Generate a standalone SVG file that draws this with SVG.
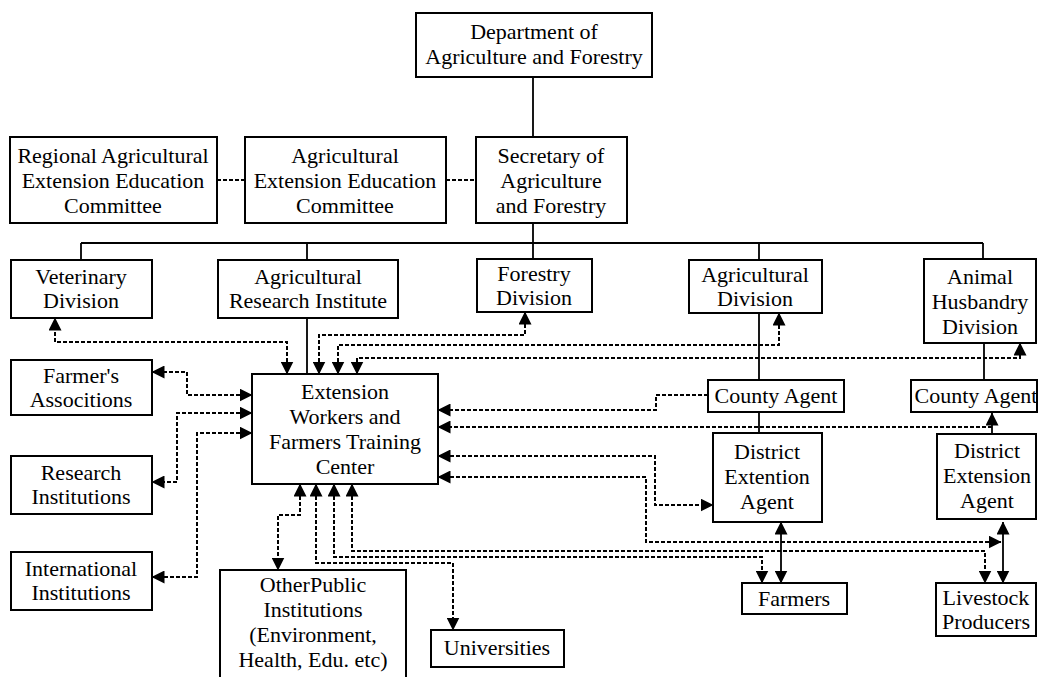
<svg xmlns="http://www.w3.org/2000/svg" width="1039" height="677" viewBox="0 0 1039 677">
<style>
.box{fill:#fff;stroke:#000;stroke-width:2}
text{font-family:'Liberation Serif','Times New Roman',Times,'DejaVu Serif',serif;font-size:22px;fill:#000;text-anchor:middle}
.solid{fill:none;stroke:#000;stroke-width:1.8}
.dash{fill:none;stroke:#000;stroke-width:2;stroke-dasharray:4,2}
.a2{marker-start:url(#ah);marker-end:url(#ah)}
.a1{marker-end:url(#ah)}
</style>
<defs>
<marker id="ah" markerUnits="userSpaceOnUse" markerWidth="13" markerHeight="13" viewBox="0 0 13 13" refX="12.5" refY="6.5" orient="auto-start-reverse">
<path d="M0,0 L13,6.5 L0,13 z" fill="#000"/>
</marker>
</defs>
<rect width="1039" height="677" fill="#fff"/>
<g id="connectors">
<path class="solid" d="M533,77 V137 M533,223 V243 M81,243 H983 M81,243 V260 M307,243 V260 M533,243 V259 M759,243 V260 M983,243 V259 M307,318 V374 M759,313 V380 M759,412 V433 M984,343 V380"/>
<path class="solid a1" d="M992,434 V413"/>
<path class="solid a2" d="M781,522 V583"/>
<path class="solid a2" d="M1003,522 V583"/>
<path class="dash" d="M217,180 H245 M446,180 H476"/>
<path class="dash a2" d="M287,374 V342 H55 V318"/>
<path class="dash a2" d="M319,374 V335 H525 V312"/>
<path class="dash a2" d="M338,374 V345 H779 V313"/>
<path class="dash a2" d="M357,374 V358 H1020 V343"/>
<path class="dash a2" d="M252,395 H187 V372 H152"/>
<path class="dash a2" d="M252,413 H177 V482 H152"/>
<path class="dash a2" d="M252,433 H197 V577 H152"/>
<path class="dash a1" d="M708,395 H656 V410 H438"/>
<path class="dash a1" d="M992,427 H438"/>
<path class="dash a2" d="M438,456 H655 V505 H713"/>
<path class="dash a2" d="M438,477 H646 V542 H1001"/>
<path class="dash a2" d="M300,484 V515 H278 V570"/>
<path class="dash a2" d="M316,484 V563 H453 V630"/>
<path class="dash a2" d="M334,484 V557 H762 V583"/>
<path class="dash a2" d="M352,484 V551 H985 V583"/>
</g>
<g id="dept"><rect class="box" x="416" y="13" width="236" height="64"/><text x="534" y="39">Department of</text><text x="534" y="64">Agriculture and Forestry</text></g>
<g id="secretary"><rect class="box" x="476" y="137" width="151" height="86"/><text x="551" y="163">Secretary of</text><text x="551" y="188">Agriculture</text><text x="551" y="213">and Forestry</text></g>
<g id="aeec"><rect class="box" x="245" y="137" width="201" height="86"/><text x="345" y="163">Agricultural</text><text x="345" y="188">Extension Education</text><text x="345" y="213">Committee</text></g>
<g id="regional"><rect class="box" x="10" y="137" width="207" height="86"/><text x="113" y="163">Regional Agricultural</text><text x="113" y="188">Extension Education</text><text x="113" y="213">Committee</text></g>
<g id="vet"><rect class="box" x="11" y="260" width="141" height="58"/><text x="81" y="284">Veterinary</text><text x="81" y="308">Division</text></g>
<g id="ari"><rect class="box" x="218" y="260" width="180" height="58"/><text x="308" y="284">Agricultural</text><text x="308" y="308">Research Institute</text></g>
<g id="forestry"><rect class="box" x="477" y="259" width="115" height="53"/><text x="534" y="281">Forestry</text><text x="534" y="305">Division</text></g>
<g id="agdiv"><rect class="box" x="689" y="260" width="133" height="53"/><text x="755" y="282">Agricultural</text><text x="755" y="306">Division</text></g>
<g id="animal"><rect class="box" x="924" y="259" width="112" height="84"/><text x="980" y="284">Animal</text><text x="980" y="309">Husbandry</text><text x="980" y="334">Division</text></g>
<g id="extension"><rect class="box" x="252" y="374" width="186" height="110"/><text x="345" y="399">Extension</text><text x="345" y="424">Workers and</text><text x="345" y="449">Farmers Training</text><text x="345" y="474">Center</text></g>
<g id="county1"><rect class="box" x="708" y="380" width="136" height="32"/><text x="776" y="403">County Agent</text></g>
<g id="dea1"><rect class="box" x="713" y="433" width="109" height="89"/><text x="767" y="459">District</text><text x="767" y="484">Extention</text><text x="767" y="509">Agent</text></g>
<g id="county2"><rect class="box" x="911" y="380" width="126" height="32"/><text x="976" y="403">County Agent</text></g>
<g id="dea2"><rect class="box" x="937" y="434" width="99" height="85"/><text x="987" y="458">District</text><text x="987" y="483">Extension</text><text x="987" y="508">Agent</text></g>
<g id="farmers"><rect class="box" x="742" y="583" width="105" height="31"/><text x="794" y="606">Farmers</text></g>
<g id="livestock"><rect class="box" x="936" y="583" width="100" height="53"/><text x="986" y="605">Livestock</text><text x="986" y="629">Producers</text></g>
<g id="farmersassoc"><rect class="box" x="11" y="360" width="141" height="55"/><text x="81" y="383">Farmer's</text><text x="81" y="407">Associtions</text></g>
<g id="research"><rect class="box" x="11" y="456" width="141" height="58"/><text x="81" y="480">Research</text><text x="81" y="504">Institutions</text></g>
<g id="international"><rect class="box" x="11" y="552" width="141" height="58"/><text x="81" y="576">International</text><text x="81" y="600">Institutions</text></g>
<g id="otherpublic"><rect class="box" x="220" y="570" width="186" height="115"/><text x="313" y="592">OtherPublic</text><text x="313" y="617">Institutions</text><text x="313" y="642">(Environment,</text><text x="313" y="667">Health, Edu. etc)</text></g>
<g id="universities"><rect class="box" x="431" y="630" width="133" height="37"/><text x="497" y="655">Universities</text></g>
</svg>
